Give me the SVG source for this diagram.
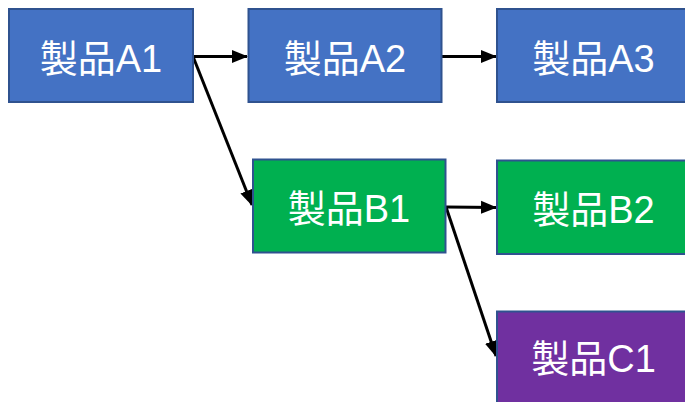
<svg xmlns="http://www.w3.org/2000/svg" width="685" height="402" viewBox="0 0 685 402">
<style>
.node rect{stroke:#2F528F;stroke-width:2}
.blue rect{fill:#4472C4}
.green rect{fill:#00B050}
.purple rect{fill:#7030A0}
.node text{fill:#ffffff;font-family:"Liberation Sans","Noto Sans CJK JP",sans-serif;font-size:38px;text-anchor:middle}
.edge{stroke:#000;stroke-width:3;fill:none;marker-end:url(#arr)}
</style>
<defs>
<marker id="arr" markerUnits="userSpaceOnUse" markerWidth="16" markerHeight="16" viewBox="0 0 16 16" refX="15" refY="8" orient="auto">
<path d="M0,1.5 L16,8 L0,14.5 Z" fill="#000"/>
</marker>
</defs>
<g id="connectors">
<line class="edge" x1="193" y1="56.5" x2="247" y2="56.5"/>
<line class="edge" x1="442" y1="56.5" x2="496" y2="56.5"/>
<line class="edge" x1="193" y1="56.5" x2="252" y2="205"/>
<line class="edge" x1="446" y1="207" x2="496" y2="207.5"/>
<line class="edge" x1="446" y1="207" x2="496" y2="356"/>
</g>
<g id="A1" class="node blue"><rect x="9" y="9" width="184" height="93"/><text x="101" y="71.5">製品A1</text></g>
<g id="A2" class="node blue"><rect x="248.5" y="9" width="193" height="93"/><text x="345" y="71.5">製品A2</text></g>
<g id="A3" class="node blue"><rect x="497" y="9" width="193" height="93"/><text x="593.5" y="71.5">製品A3</text></g>
<g id="B1" class="node green"><rect x="253" y="159.5" width="192.5" height="93"/><text x="349" y="222">製品B1</text></g>
<g id="B2" class="node green"><rect x="497" y="160.5" width="193" height="93.5"/><text x="593.5" y="223">製品B2</text></g>
<g id="C1" class="node purple"><rect x="497" y="311.5" width="193" height="93"/><text x="593.5" y="372">製品C1</text></g>
</svg>
